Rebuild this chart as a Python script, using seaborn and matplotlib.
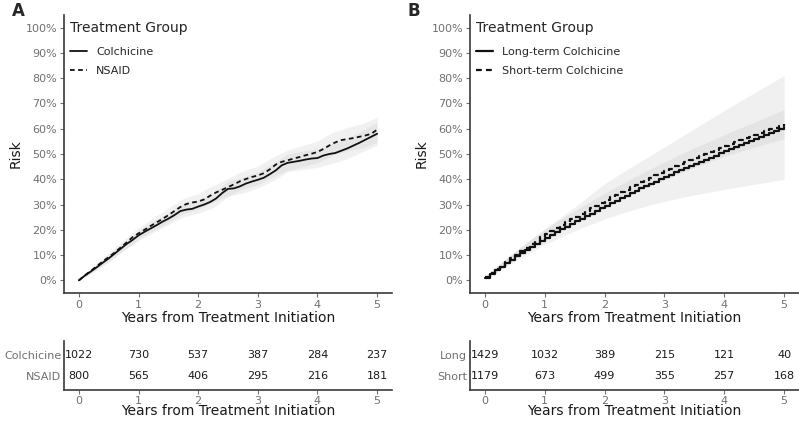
import matplotlib
matplotlib.use("Agg")
import matplotlib.pyplot as plt
import numpy as np
import pandas as pd
import seaborn as sns

# ---- panel A: Colchicine vs NSAID (cumulative risk, %) ----
A_TIME = np.round(np.arange(0, 5.01, 0.1), 2)
A_COLCHICINE = [
    0.0, 1.9, 3.5, 5.2, 7.0, 8.7, 10.6, 12.5, 14.4, 16.0,
    17.8, 19.2, 20.5, 21.8, 23.2, 24.4, 25.8, 27.4, 28.0, 28.3,
    29.2, 30.0, 31.0, 32.4, 34.5, 36.2, 36.4, 37.2, 38.3, 39.1,
    39.8, 40.6, 42.0, 43.5, 45.5, 46.5, 46.9, 47.3, 47.8, 48.2,
    48.4, 49.4, 50.0, 50.4, 51.3, 52.2, 53.3, 54.4, 55.6, 56.8,
    58.0,
]
A_NSAID = [
    0.0, 2.0, 3.8, 5.6, 7.5, 9.2, 11.0, 13.0, 15.0, 17.1,
    18.6, 20.0, 21.5, 22.9, 24.3, 25.8, 27.4, 29.0, 30.2, 30.8,
    31.2, 32.0, 33.5, 34.8, 35.8, 36.9, 38.0, 39.2, 40.1, 40.9,
    41.5, 42.4, 43.9, 45.8, 46.9, 47.5, 48.2, 48.8, 49.5, 50.1,
    50.8, 52.0, 53.4, 54.6, 55.5, 55.9, 56.3, 56.8, 57.3, 58.0,
    59.6,
]
# confidence bands, quarterly
A_CI_TIME = np.round(np.arange(0, 5.01, 0.25), 2)
A_COL_LO = [0, 3.4, 7.3, 11.7, 15.8, 19.0, 22.0, 25.1, 26.5, 28.7, 33.2,
            34.6, 36.6, 39.3, 43.0, 43.9, 44.7, 46.3, 48.2, 50.8, 53.5]
A_COL_HI = [0.3, 5.4, 10.1, 15.1, 19.8, 23.4, 26.8, 30.3, 31.9, 34.5, 39.2,
            40.8, 43.0, 46.1, 50.0, 51.1, 52.1, 54.1, 56.2, 59.2, 62.5]
A_NSA_LO = [0, 3.6, 7.6, 12.0, 16.3, 19.7, 23.0, 26.4, 28.1, 30.9, 33.5,
            36.1, 37.8, 40.9, 43.5, 45.0, 46.5, 49.5, 51.3, 52.3, 54.6]
A_NSA_HI = [0.3, 5.8, 10.8, 16.0, 20.9, 24.7, 28.6, 32.4, 34.3, 37.5, 40.3,
            43.3, 45.2, 48.7, 51.5, 53.4, 55.1, 58.5, 60.5, 61.9, 64.6]
A_GROUPS = ["Colchicine", "NSAID"]
A_AT_RISK = {
    "Colchicine": [1022, 730, 537, 387, 284, 237],
    "NSAID": [800, 565, 406, 295, 216, 181],
}

# ---- panel B: long- vs short-term colchicine, monthly steps ----
B_TIME = np.arange(61) / 12
B_LONG = [
    1.0, 2.5, 4.0, 5.4, 6.8, 8.2, 9.5, 10.8, 12.1, 13.3, 14.5, 15.7, 16.8,
    17.95, 19.05, 20.15, 21.2, 22.25, 23.3, 24.35, 25.4, 26.4, 27.45, 28.5, 29.5,
    30.5, 31.5, 32.5, 33.5, 34.5, 35.5, 36.4, 37.3, 38.2, 39.1, 40.0, 40.9,
    41.8, 42.7, 43.6, 44.5, 45.4, 46.2, 47.0, 47.8, 48.6, 49.4, 50.2, 51.0,
    51.8, 52.6, 53.4, 54.2, 55.0, 55.8, 56.6, 57.4, 58.2, 59.0, 59.8, 60.5,
]
B_SHORT = [
    1.3, 2.8, 4.3, 5.8, 7.3, 8.7, 10.1, 11.5, 12.9, 14.3, 15.7, 17.0, 18.3,
    19.5, 20.7, 21.9, 23.0, 24.1, 25.2, 26.3, 27.4, 28.5, 29.6, 30.7, 31.8,
    32.8, 33.8, 34.8, 35.8, 36.8, 37.8, 38.8, 39.7, 40.6, 41.5, 42.4, 43.3,
    44.2, 45.1, 46.0, 46.9, 47.7, 48.5, 49.3, 50.1, 50.9, 51.7, 52.5, 53.3,
    54.1, 54.8, 55.5, 56.2, 56.9, 57.6, 58.3, 59.0, 59.7, 60.4, 61.1, 61.8,
]
B_CI_TIME = np.round(np.arange(0, 5.01, 0.25), 2)
B_LONG_LO = [0.6, 4.2, 7.6, 10.9, 14.2, 17.0, 19.6, 22.0, 24.3, 26.3, 28.1,
             29.8, 31.3, 32.6, 33.8, 34.9, 36.0, 37.0, 38.0, 39.0, 40.0]
B_LONG_HI = [1.5, 6.5, 11.3, 15.8, 20.3, 24.6, 29.0, 33.6, 38.3, 42.0, 45.6,
             49.2, 52.8, 56.4, 60.0, 63.6, 67.2, 70.7, 74.2, 77.6, 81.0]
B_SHORT_LO = [0.9, 4.8, 8.7, 12.6, 16.4, 19.8, 22.9, 26.0, 29.1, 31.9, 34.7,
              37.3, 39.8, 42.3, 44.6, 46.8, 49.0, 50.9, 52.7, 54.4, 56.0]
B_SHORT_HI = [1.7, 6.8, 11.5, 16.0, 20.2, 24.0, 27.5, 31.0, 34.5, 37.7, 40.9,
              43.9, 46.8, 49.7, 52.4, 55.0, 57.6, 60.1, 62.5, 65.0, 67.6]
B_GROUPS = ["Long-term Colchicine", "Short-term Colchicine"]
B_AT_RISK = {
    "Long": [1429, 1032, 389, 215, 121, 40],
    "Short": [1179, 673, 499, 355, 257, 168],
}

YEARS = [0, 1, 2, 3, 4, 5]
Y_TICKS = list(range(0, 101, 10))
XLABEL = "Years from Treatment Initiation"

SPINE = "#3a3a3a"
TICK_TXT = "#707070"
BAND = "#b4b4b4"

sns.set_theme(style="ticks")
plt.rcParams["font.family"] = ["DejaVu Sans"]


def style_axis(ax, labelpad=1):
    sns.despine(ax=ax)
    for side in ("left", "bottom"):
        ax.spines[side].set_color(SPINE)
        ax.spines[side].set_linewidth(1.2)
    ax.tick_params(colors=TICK_TXT, labelsize=8, length=3, width=0.8, pad=2)
    ax.set_xlim(-0.25, 5.25)
    ax.set_xticks(YEARS)
    ax.set_xlabel(XLABEL, fontsize=10, labelpad=labelpad, color="#1a1a1a")


def draw_curves(ax, long_df, groups, lw, drawstyle):
    styles = {groups[0]: "-", groups[1]: (0, (2.6, 1.9))}
    for g in groups:
        sub = long_df[long_df["group"] == g]
        sns.lineplot(data=sub, x="time", y="risk", ax=ax, color="#111111",
                     linewidth=lw, linestyle=styles[g], drawstyle=drawstyle,
                     label=g, estimator=None, sort=False)
    ax.set_ylim(-5, 105)
    ax.set_yticks(Y_TICKS)
    ax.set_yticklabels([f"{v}%" for v in Y_TICKS])
    ax.set_ylabel("Risk", fontsize=10, labelpad=2, color="#1a1a1a")
    style_axis(ax)
    leg = ax.legend(title="Treatment Group", loc="upper left",
                    bbox_to_anchor=(0.0, 1.0), frameon=False, fontsize=8,
                    title_fontsize=10, handlelength=1.6, handletextpad=0.8,
                    labelspacing=0.8, borderaxespad=0.1)
    leg._legend_box.align = "left"
    leg._legend_box.sep = 9


def draw_table(ax, counts):
    labels = list(counts.keys())
    rows = {labels[0]: 2, labels[1]: 1}
    for name, vals in counts.items():
        for x, v in zip(YEARS, vals):
            ax.text(x, rows[name], str(v), ha="center", va="center",
                    fontsize=8, color="#1a1a1a")
    ax.set_ylim(0.36, 2.64)
    ax.set_yticks([rows[n] for n in labels])
    ax.set_yticklabels(labels)
    style_axis(ax, labelpad=-1)
    ax.tick_params(axis="x", pad=1)
    ax.tick_params(axis="y", length=0)


fig = plt.figure(figsize=(7.99, 4.21), dpi=100)
W, H = 799, 421


def add_axes(left, top, right, bottom):
    return fig.add_axes([left / W, 1 - bottom / H, (right - left) / W,
                         (bottom - top) / H])


ax_a = add_axes(64, 15, 392, 293)
ax_b = add_axes(470, 15, 799, 293)
tab_a = add_axes(64, 341, 392, 390)
tab_b = add_axes(470, 341, 799, 390)

# panel A
ax_a.fill_between(A_CI_TIME, A_COL_LO, A_COL_HI, color=BAND, alpha=0.18, lw=0)
ax_a.fill_between(A_CI_TIME, A_NSA_LO, A_NSA_HI, color=BAND, alpha=0.18, lw=0)
df_a = pd.concat([
    pd.DataFrame({"time": A_TIME, "risk": A_COLCHICINE, "group": A_GROUPS[0]}),
    pd.DataFrame({"time": A_TIME, "risk": A_NSAID, "group": A_GROUPS[1]}),
])
draw_curves(ax_a, df_a, A_GROUPS, 1.3, "default")

# panel B
ax_b.fill_between(B_CI_TIME, B_LONG_LO, B_LONG_HI, color=BAND, alpha=0.2, lw=0)
ax_b.fill_between(B_CI_TIME, B_SHORT_LO, B_SHORT_HI, color=BAND, alpha=0.2, lw=0)
df_b = pd.concat([
    pd.DataFrame({"time": B_TIME, "risk": B_LONG, "group": B_GROUPS[0]}),
    pd.DataFrame({"time": B_TIME, "risk": B_SHORT, "group": B_GROUPS[1]}),
])
draw_curves(ax_b, df_b, B_GROUPS, 1.6, "steps-post")

draw_table(tab_a, A_AT_RISK)
draw_table(tab_b, B_AT_RISK)

fig.text(12 / W, 1 - 2 / H, "A", fontsize=12, fontweight="bold", va="top")
fig.text(408 / W, 1 - 2 / H, "B", fontsize=12, fontweight="bold", va="top")

fig.savefig("out.png", dpi=100)
